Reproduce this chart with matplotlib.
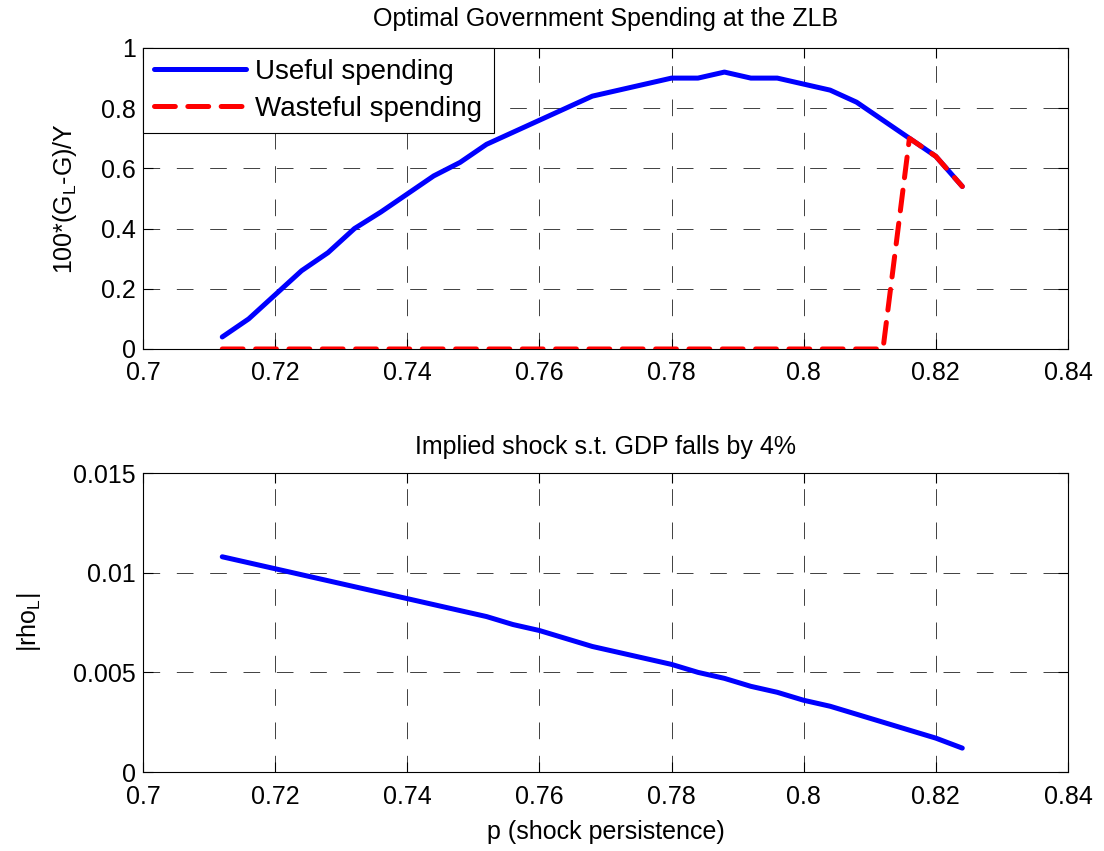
import matplotlib
matplotlib.use("Agg")
import matplotlib.pyplot as plt

# persistence grid
p = [0.712, 0.716, 0.720, 0.724, 0.728, 0.732, 0.736, 0.740, 0.744, 0.748,
     0.752, 0.756, 0.760, 0.764, 0.768, 0.772, 0.776, 0.780, 0.784, 0.788,
     0.792, 0.796, 0.800, 0.804, 0.808, 0.812, 0.816, 0.820, 0.824]

# optimal spending, 100*(G_L-G)/Y
useful = [0.04, 0.10, 0.18, 0.26, 0.32, 0.40, 0.455, 0.515, 0.575, 0.62,
          0.68, 0.72, 0.76, 0.80, 0.84, 0.86, 0.88, 0.90, 0.90, 0.92,
          0.90, 0.90, 0.88, 0.86, 0.82, 0.76, 0.70, 0.64, 0.54]
wasteful = [0, 0, 0, 0, 0, 0, 0, 0, 0, 0,
            0, 0, 0, 0, 0, 0, 0, 0, 0, 0,
            0, 0, 0, 0, 0, 0, 0.70, 0.64, 0.54]

# implied shock |rho_L|
rho = [0.0108, 0.0105, 0.0102, 0.0099, 0.0096, 0.0093, 0.0090, 0.0087, 0.0084, 0.0081,
       0.0078, 0.0074, 0.0071, 0.0067, 0.0063, 0.0060, 0.0057, 0.0054, 0.0050, 0.0047,
       0.0043, 0.0040, 0.0036, 0.0033, 0.0029, 0.0025, 0.0021, 0.0017, 0.0012]

xticks = [0.7, 0.72, 0.74, 0.76, 0.78, 0.8, 0.82, 0.84]
xticklabels = ['0.7', '0.72', '0.74', '0.76', '0.78', '0.8', '0.82', '0.84']

plt.rcParams['font.family'] = ['Liberation Sans', 'DejaVu Sans']
plt.rcParams['mathtext.fontset'] = 'custom'
plt.rcParams['mathtext.rm'] = 'Liberation Sans'
plt.rcParams['mathtext.it'] = 'Liberation Sans'
plt.rcParams['lines.scale_dashes'] = False
plt.rcParams['font.size'] = 18

fig = plt.figure(figsize=(11.04, 8.51), dpi=100)
ax1 = fig.add_axes([0.1295, 0.5899, 0.8379, 0.3537])
ax2 = fig.add_axes([0.1295, 0.0928, 0.8379, 0.3513])


def matlab_style(ax):
    ax.set_xlim(0.7, 0.84)
    ax.set_xticks(xticks)
    ax.set_xticklabels(xticklabels)
    ax.tick_params(axis='both', direction='in', top=True, right=True, length=7,
                   width=0.8, labelsize=18)
    ax.tick_params(axis='x', pad=9)
    ax.tick_params(axis='y', pad=5)
    ax.grid(True, color='k', linestyle=(0, (12, 12)), linewidth=0.7, alpha=0.75)
    ax.set_axisbelow(True)
    for s in ax.spines.values():
        s.set_linewidth(0.8)
        s.set_color('k')


# TOP PANEL
ax1.plot(p, useful, color='#0000ff', lw=3.6, solid_capstyle='round',
         label='Useful spending', zorder=3)
ax1.plot(p, wasteful, color='#ff0000', lw=3.6, dashes=(15, 9),
         dash_capstyle='round', label='Wasteful spending', zorder=4)
matlab_style(ax1)
ax1.set_ylim(0, 1)
ax1.set_yticks([0, 0.2, 0.4, 0.6, 0.8, 1])
ax1.set_yticklabels(['0', '0.2', '0.4', '0.6', '0.8', '1'])
ax1.set_title('Optimal Government Spending at the ZLB', fontsize=18, pad=16)
ax1.set_ylabel(r'100*(G$_{\mathregular{L}}$-G)/Y', fontsize=18, labelpad=16)
leg = ax1.legend(loc='upper left', borderaxespad=0, fancybox=False,
                 framealpha=1, edgecolor='k', fontsize=20, handlelength=3.3,
                 handletextpad=0.35, borderpad=0.4, labelspacing=0.4)
leg.get_frame().set_linewidth(0.8)

# BOTTOM PANEL
ax2.plot(p, rho, color='#0000ff', lw=3.6, solid_capstyle='round', zorder=3)
matlab_style(ax2)
ax2.set_ylim(0, 0.015)
ax2.set_yticks([0, 0.005, 0.01, 0.015])
ax2.set_yticklabels(['0', '0.005', '0.01', '0.015'])
ax2.set_title('Implied shock s.t. GDP falls by 4%', fontsize=18, pad=14)
ax2.set_ylabel(r'|rho$_{\mathregular{L}}$|', fontsize=18, labelpad=22)
ax2.set_xlabel('p (shock persistence)', fontsize=18, labelpad=8)

fig.savefig('out.png', dpi=100)
